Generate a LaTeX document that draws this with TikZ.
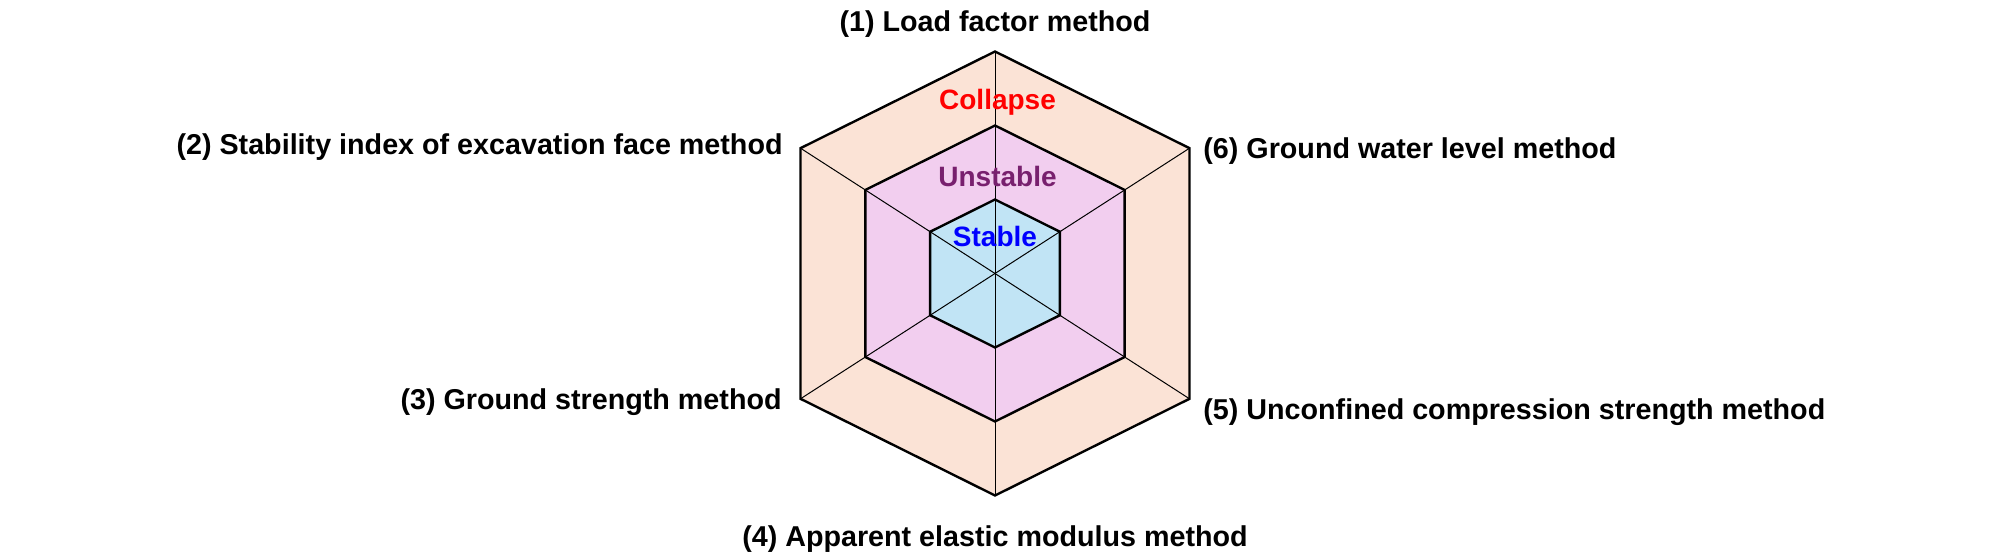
\documentclass[tikz,border=0pt]{standalone}
\usepackage{fontspec}
\setmainfont{Liberation Sans}
\definecolor{peachf}{HTML}{FBE3D6}
\definecolor{pinkf}{HTML}{F2CEEF}
\definecolor{bluef}{HTML}{C1E4F5}
\definecolor{purpt}{HTML}{78206E}
\begin{document}
\begin{tikzpicture}[x=0.5pt,y=-0.5pt,
  axislabel/.style={font=\fontsize{14.35pt}{16pt}\selectfont\bfseries, inner sep=0pt},
  zonetext/.style={font=\fontsize{14pt}{16pt}\selectfont\bfseries, inner sep=0pt},
  hexline/.style={line width=1.2pt, line join=miter},
  spoke/.style={line width=0.5pt}]
\useasboundingbox (0,0) rectangle (2008,560);
\coordinate (C) at (995,273.5);
\begin{scope}[shift={(995,273.5)}]
\foreach \s/\n in {1/o, 0.6667/m, 0.3333/i} {
  \coordinate (\n1) at (0,{-222*\s});
  \coordinate (\n2) at ({-194.5*\s},{-125.3*\s});
  \coordinate (\n3) at ({-194.5*\s},{125.3*\s});
  \coordinate (\n4) at (0,{222*\s});
  \coordinate (\n5) at ({194.5*\s},{125.3*\s});
  \coordinate (\n6) at ({194.5*\s},{-125.3*\s});
}
\end{scope}
% fills
\fill[peachf] (o1) -- (o2) -- (o3) -- (o4) -- (o5) -- (o6) -- cycle;
\fill[pinkf] (m1) -- (m2) -- (m3) -- (m4) -- (m5) -- (m6) -- cycle;
\fill[bluef] (i1) -- (i2) -- (i3) -- (i4) -- (i5) -- (i6) -- cycle;
% spokes
\foreach \k in {1,...,6} { \draw[spoke] (C) -- (o\k); }
% outlines
\draw[hexline] (o1) -- (o2) -- (o3) -- (o4) -- (o5) -- (o6) -- cycle;
\draw[hexline] (m1) -- (m2) -- (m3) -- (m4) -- (m5) -- (m6) -- cycle;
\draw[hexline] (i1) -- (i2) -- (i3) -- (i4) -- (i5) -- (i6) -- cycle;
% zone texts
\node[zonetext, text=red, anchor=base] (col) at (997.5,109.3) {Collapse};
\node[zonetext, text=purpt, anchor=base] (uns) at (997.5,186.7) {Unstable};
\node[zonetext, text=blue, anchor=base] (sta) at (995,246.7) {Stable};
% axis labels
\node[axislabel, anchor=base] (l1) at (995,31.7) {(1) Load factor method};
\node[axislabel, anchor=base east] (l2) at (783,155) {(2) Stability index of excavation face method};
\node[axislabel, anchor=base east] (l3) at (782,409.3) {(3) Ground strength method};
\node[axislabel, anchor=base] (l4) at (995,546.7) {(4) Apparent elastic modulus method};
\node[axislabel, anchor=base west] (l5) at (1203,420) {(5) Unconfined compression strength method};
\node[axislabel, anchor=base west] (l6) at (1203,158.3) {(6) Ground water level method};
\end{tikzpicture}
\end{document}
